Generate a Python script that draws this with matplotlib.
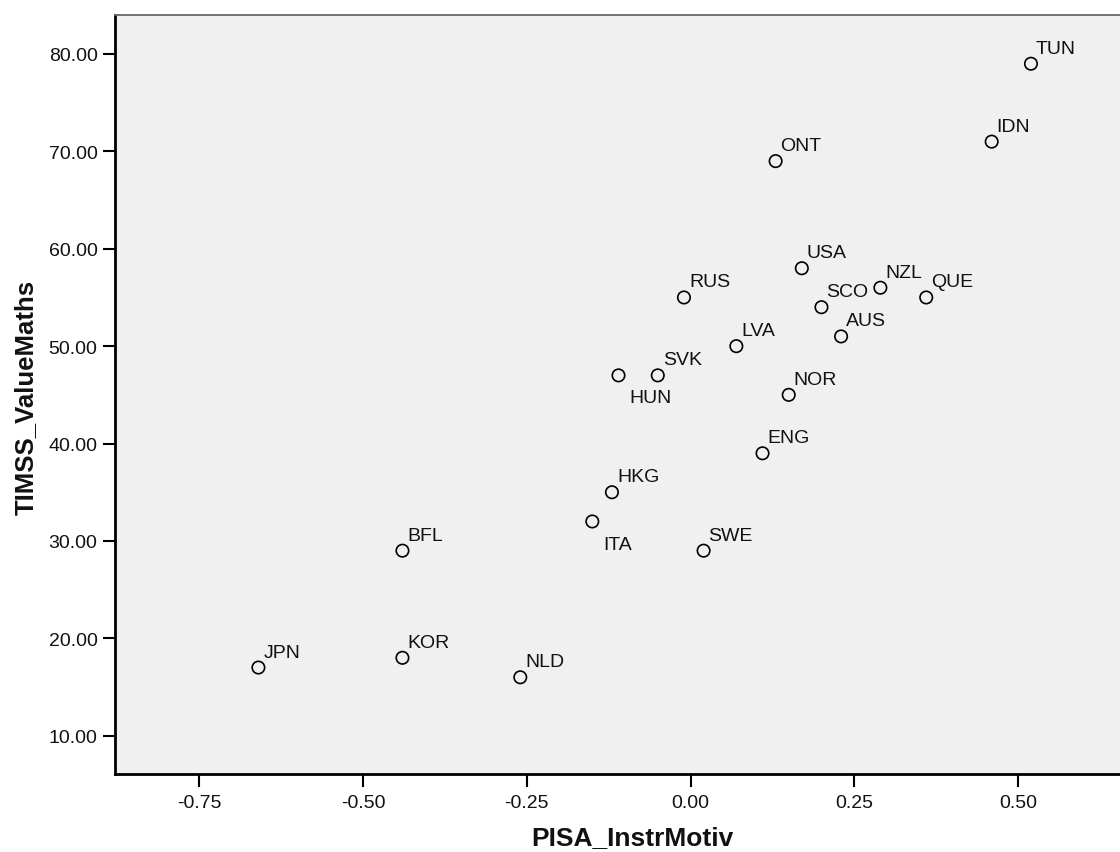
import matplotlib
matplotlib.use("Agg")
import matplotlib.pyplot as plt
from matplotlib.ticker import FormatStrFormatter

countries = ["TUN", "IDN", "ONT", "USA", "NZL", "QUE", "SCO", "AUS", "RUS", "LVA",
             "SVK", "HUN", "NOR", "ENG", "HKG", "ITA", "SWE", "BFL", "JPN", "KOR", "NLD"]
instr_motiv = [0.52, 0.46, 0.13, 0.17, 0.29, 0.36, 0.20, 0.23, -0.01, 0.07,
               -0.05, -0.11, 0.15, 0.11, -0.12, -0.15, 0.02, -0.44, -0.66, -0.44, -0.26]
value_maths = [79, 71, 69, 58, 56, 55, 54, 51, 55, 50,
               47, 47, 45, 39, 35, 32, 29, 29, 17, 18, 16]
x_ticks = [-0.75, -0.50, -0.25, 0.00, 0.25, 0.50]
y_ticks = [10, 20, 30, 40, 50, 60, 70, 80]

# label offsets in points (default above-right); some labels sit below
below = {"HUN": (8, -19.5), "ITA": (8, -20)}

plt.rcParams['font.family'] = ['Liberation Sans', 'DejaVu Sans']
fig = plt.figure(figsize=(11.2, 8.53), dpi=100)
ax = fig.add_axes([0.1027, 0.0918, 0.8973, 0.8894])
ax.set_facecolor('#F0F0F0')

ax.scatter(instr_motiv, value_maths, s=80, facecolors='none', edgecolors='black',
           linewidths=1.2, zorder=3)
for c, x, y in zip(countries, instr_motiv, value_maths):
    dx, dy = below.get(c, (3.6, 7.9))
    ax.annotate(c, (x, y), xytext=(dx, dy), textcoords='offset points',
                fontsize=14, color='#111111', ha='left', va='baseline')

ax.set_xlim(-0.879, 0.656)
ax.set_ylim(6.1, 84.0)
ax.set_xticks(x_ticks)
ax.set_yticks(y_ticks)
ax.xaxis.set_major_formatter(FormatStrFormatter('%.2f'))
ax.yaxis.set_major_formatter(FormatStrFormatter('%.2f'))
ax.tick_params(axis='both', direction='out', length=9, width=1.5, labelsize=14,
               colors='black', labelcolor='#111111')
ax.tick_params(axis='x', pad=5.3)
ax.tick_params(axis='y', pad=3.6)

for side in ['left', 'bottom']:
    ax.spines[side].set_linewidth(2)
    ax.spines[side].set_color('black')
ax.spines['top'].set_linewidth(1.3)
ax.spines['top'].set_color('#666666')
ax.spines['right'].set_visible(False)

ax.set_xlabel('PISA_InstrMotiv', fontsize=19, fontweight='bold', color='#111111')
ax.xaxis.label.set_va('baseline')
ax.xaxis.set_label_coords(0.515, -0.0925)
ax.set_ylabel('TIMSS_ValueMaths', fontsize=18.5, fontweight='bold', color='#111111')
ax.yaxis.set_label_coords(-0.0771, 0.497)

fig.savefig('out.png', dpi=100, facecolor='white')
